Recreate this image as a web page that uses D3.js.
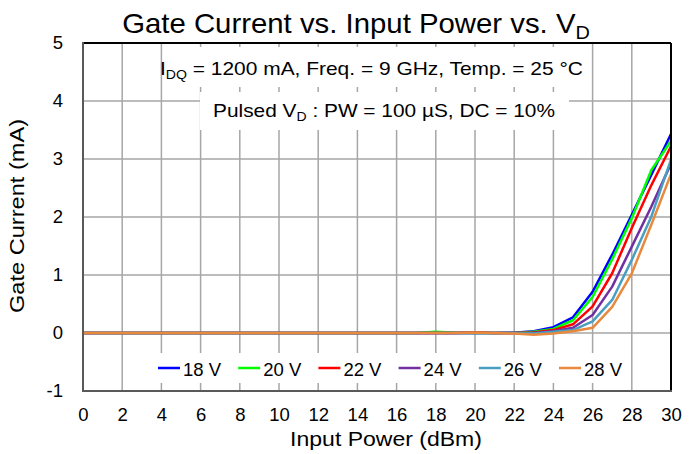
<!DOCTYPE html>
<html><head><meta charset="utf-8">
<script src="https://cdn.jsdelivr.net/npm/d3@7"></script>
<style>body{margin:0;background:#fff}svg{display:block}text{font-family:"Liberation Sans",Arial,sans-serif}</style>
</head><body>
<svg id="c" width="700" height="454"></svg>
<script>
const inputPower = d3.range(0, 31);
const seriesNames = ["18 V","20 V","22 V","24 V","26 V","28 V"];
const seriesColors = ["#0000FF","#00FF00","#FF0000","#7030A0","#4A9EC0","#E8893E"];
const v18 = [0,0,0,0,0,0,0,0,0,0,0,0,0,0,0,0,0,0,0.005,0,0,0,0.005,0.03,0.1,0.27,0.71,1.35,2.04,2.73,3.43];
const v20 = [0,0,0,0,0,0,0,0,0,0,0,0,0,0,0,0,0,0,0.02,0.005,0,0,0,0.02,0.07,0.22,0.62,1.27,1.98,2.81,3.31];
const v22 = [0,0,0,0,0,0,0,0,0,0,0,0,0,0,0,0,0,0,0,0,0.015,0,0,0.01,0.05,0.15,0.46,1.03,1.81,2.55,3.22];
const v24 = [0,0,0,0,0,0,0,0,0,0,0,0,0,0,0,0,0,0,0,0,0,0,0,0,0.03,0.09,0.31,0.8,1.49,2.18,2.92];
const v26 = [0,0,0,0,0,0,0,0,0,0,0,0,0,0,0,0,0,0,0,0,0,0,0,-0.01,0.02,0.05,0.2,0.57,1.26,2.01,2.99];
const v28 = [0,0,0,0,0,0,0,0,0,0,0,0,0,0,0,0,0,0,0,0,0.01,0,-0.01,-0.03,-0.01,0.03,0.09,0.45,1.03,1.87,2.74];
const seriesValues = [v18,v20,v22,v24,v26,v28];
const xTicks = d3.range(0, 31, 2);
const yTicks = [-1,0,1,2,3,4,5];
const titleMain = "Gate Current vs. Input Power vs. V";
const titleSub = "D";
const xTitle = "Input Power (dBm)";
const yTitle = "Gate Current (mA)";

const svg = d3.select("#c");
const L = 83, R = 671, T = 43, B = 391;
const x = d3.scaleLinear().domain([0,30]).range([L,R]);
const y = d3.scaleLinear().domain([-1,5]).range([B,T]);

function stretch(sel, target, cx, cy, rot) {
  const w = sel.node().getBBox().width;
  const s = target / w;
  sel.attr("transform", `translate(${cx},${cy}) rotate(${rot||0}) scale(${s},1)`);
}

// grid
const g = svg.append("g");
g.selectAll("line.vx").data(xTicks.slice(1,-1)).join("line")
  .attr("x1",d=>x(d)).attr("x2",d=>x(d)).attr("y1",T).attr("y2",B)
  .attr("stroke","#A6A6A6").attr("stroke-width",1.5);
g.selectAll("line.hy").data(yTicks.slice(1,-1)).join("line")
  .attr("x1",L).attr("x2",R).attr("y1",d=>y(d)).attr("y2",d=>y(d))
  .attr("stroke","#A6A6A6").attr("stroke-width",1.5);

// annotation boxes (white, covering grid)
svg.append("rect").attr("x",166).attr("y",47).attr("width",424).attr("height",40).attr("fill","#fff");
svg.append("rect").attr("x",200).attr("y",92).attr("width",369).attr("height",38).attr("fill","#fff");
// legend box
svg.append("rect").attr("x",150).attr("y",353).attr("width",478).attr("height",30).attr("fill","#fff");

// lines
const line = d3.line().x((d,i)=>x(inputPower[i])).y(d=>y(d));
seriesValues.forEach((vals,k)=>{
  svg.append("path").attr("d",line(vals)).attr("fill","none")
    .attr("stroke",seriesColors[k]).attr("stroke-width",2.5).attr("stroke-linejoin","round");
});

// borders
svg.append("line").attr("x1",L).attr("x2",R).attr("y1",T).attr("y2",T).attr("stroke","#000").attr("stroke-width",2);
svg.append("line").attr("x1",R).attr("x2",R).attr("y1",T).attr("y2",B).attr("stroke","#000").attr("stroke-width",2);
svg.append("line").attr("x1",L).attr("x2",L).attr("y1",T-1).attr("y2",B+1).attr("stroke","#595959").attr("stroke-width",2);
svg.append("line").attr("x1",L-1).attr("x2",R+1).attr("y1",B).attr("y2",B).attr("stroke","#595959").attr("stroke-width",2);

// axes
const fmt = d => String(d);
const xAxis = d3.axisBottom(x).tickValues(xTicks).tickSize(0).tickPadding(17).tickFormat(fmt);
const ya = d3.axisLeft(y).tickValues(yTicks).tickSize(0).tickPadding(20).tickFormat(fmt);
const gx = svg.append("g").attr("transform",`translate(0,${B})`).call(xAxis);
const gy = svg.append("g").attr("transform",`translate(${L},0)`).call(ya);
[gx,gy].forEach(a=>{a.select(".domain").remove();a.selectAll("text").attr("font-size",18.5).attr("fill","#000").style("font-family",'"Liberation Sans",Arial,sans-serif');});

// title
const tt = svg.append("text").attr("text-anchor","middle").attr("font-size",28);
tt.append("tspan").text(titleMain);
tt.append("tspan").attr("font-size",19).attr("dy",6).text(titleSub);
stretch(tt, 468, 356, 33);

const xt = svg.append("text").attr("text-anchor","middle").attr("font-size",21).text(xTitle);
stretch(xt, 192, 386, 446);
const yt = svg.append("text").attr("text-anchor","middle").attr("font-size",21).text(yTitle);
stretch(yt, 194, 24, 216, -90);

// annotations
const a1 = svg.append("text").attr("text-anchor","middle").attr("font-size",18.6);
a1.append("tspan").text("I");
a1.append("tspan").attr("font-size",12.5).attr("dy",4).text("DQ");
a1.append("tspan").attr("dy",-4).text(" = 1200 mA, Freq. = 9 GHz, Temp. = 25 °C");
stretch(a1, 423, 371.5, 75);
const a2 = svg.append("text").attr("text-anchor","middle").attr("font-size",18.6);
a2.append("tspan").text("Pulsed V");
a2.append("tspan").attr("font-size",12.5).attr("dy",4).text("D");
a2.append("tspan").attr("dy",-4).text(" : PW = 100 µS, DC = 10%");
stretch(a2, 342, 384, 117);

// legend
const lg = svg.append("g");
seriesNames.forEach((n,k)=>{
  const lx = 158 + k*80.2;
  lg.append("line").attr("x1",lx).attr("x2",lx+22).attr("y1",368).attr("y2",368).attr("stroke",seriesColors[k]).attr("stroke-width",2.5);
  lg.append("text").attr("x",lx+25).attr("y",375.5).attr("font-size",18.5).text(n);
});
</script>
</body></html>
